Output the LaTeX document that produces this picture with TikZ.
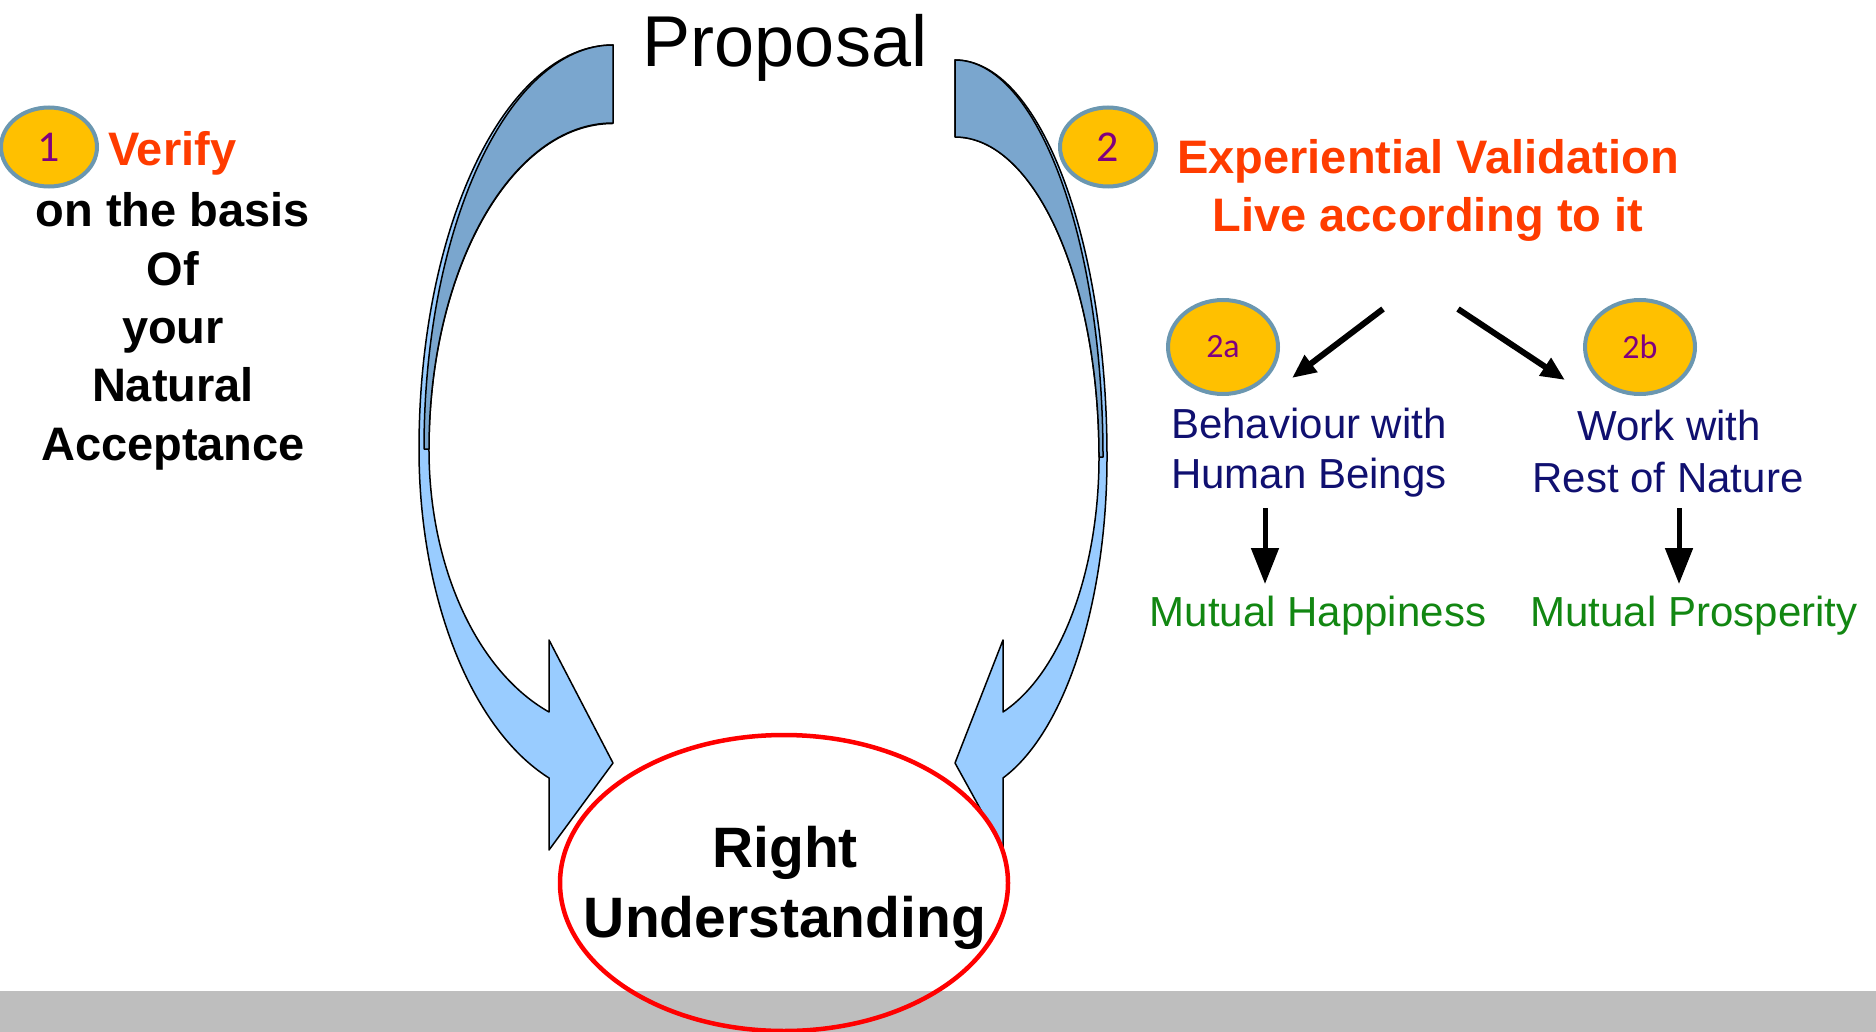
\documentclass[tikz,border=0pt]{standalone}
\usepackage{fontspec}
\setmainfont{Liberation Sans}
\newfontfamily\badgefont{Carlito}
\usetikzlibrary{arrows.meta,shapes.geometric}

\definecolor{sheetgray}{RGB}{190,190,190}
\definecolor{frontblue}{RGB}{153,204,255}
\definecolor{backblue}{RGB}{122,166,206}
\definecolor{vermilion}{RGB}{255,60,0}
\definecolor{badgegold}{RGB}{255,192,0}
\definecolor{badgerim}{RGB}{107,151,176}
\definecolor{badgeink}{RGB}{128,0,128}
\definecolor{navyink}{RGB}{16,16,112}
\definecolor{leafgreen}{RGB}{18,135,18}

\begin{document}
\begin{tikzpicture}[x=1pt,y=-1pt,
  front/.style={fill=frontblue,draw=black,line width=1.5pt,line join=round},
  back/.style={fill=backblue,draw=black,line width=1.5pt,line join=round},
  badge/.style={ellipse,fill=badgegold,draw=badgerim,line width=4pt,inner sep=0pt,
    minimum width=96pt,minimum height=79pt,text=badgeink,font=\badgefont\fontsize{44}{52}\selectfont},
  subbadge/.style={badge,minimum width=110pt,minimum height=94pt,font=\badgefont\fontsize{34}{40}\selectfont},
  bigword/.style={anchor=base,font=\fontsize{72}{86}\selectfont},
  heavy/.style={anchor=base,font=\fontsize{47}{56}\selectfont\bfseries},
  plain/.style={anchor=base,font=\fontsize{42}{50}\selectfont},
  pointer/.style={line width=6pt,-{Triangle[length=24pt,width=20pt]}},
  drop/.style={line width=5pt,-{Triangle[length=36pt,width=27pt]}}]

\useasboundingbox (0,0) rectangle (1876,1032);
\fill[sheetgray] (0,991) rectangle (1876,1032);

% left curved arrow
\filldraw[front] (613,45) arc[start angle=270,end angle=180,x radius=194,y radius=404]
  arc[start angle=180,end angle=109.26,x radius=194,y radius=348.5]
  -- (549,850) -- (613,763) -- (549,640) -- (549,712)
  arc[start angle=110.35,end angle=180,x radius=184,y radius=280]
  arc[start angle=180,end angle=270,x radius=184,y radius=326] -- cycle;
\filldraw[back] (613,45) arc[start angle=270,end angle=180,x radius=189,y radius=404]
  -- (429,449) arc[start angle=180,end angle=270,x radius=184,y radius=326] -- cycle;

% right curved arrow
\filldraw[front] (955,60) arc[start angle=270,end angle=360,x radius=152,y radius=397]
  arc[start angle=0,end angle=71.59,x radius=152,y radius=338.3]
  -- (1003,850) -- (955,763) -- (1003,640) -- (1003,712)
  arc[start angle=70.53,end angle=0,x radius=144,y radius=270.5]
  arc[start angle=0,end angle=-90,x radius=144,y radius=320] -- cycle;
\filldraw[back] (955,60) arc[start angle=270,end angle=360,x radius=148,y radius=397]
  -- (1099,457) arc[start angle=0,end angle=-90,x radius=144,y radius=320] -- cycle;

\node[bigword] (proposal) at (785,67) {Proposal};

% right understanding
\draw[red,line width=4.5pt] (784,883) ellipse[x radius=224,y radius=148];
\node[heavy,font=\fontsize{57}{68}\selectfont\bfseries] (right) at (785,867) {Right};
\node[heavy,font=\fontsize{57}{68}\selectfont\bfseries] (understanding) at (785,937) {Understanding};

% step 1
\node[badge] (one) at (49,147) {1};
\node[heavy,anchor=base west,inner sep=0pt,text=vermilion] (verify) at (108,166) {Verify};
\foreach \word [count=\k] in {on the basis,Of,your,Natural,Acceptance}
  \node[heavy] (basis\k) at (173,{227+58.25*(\k-1)}) {\word};

% step 2
\node[badge] (two) at (1108,147) {2};
\node[heavy,text=vermilion] (validation) at (1428,174) {Experiential Validation};
\node[heavy,text=vermilion] (live) at (1428,232) {Live according to it};

\coordinate (forkL) at (1383,309);
\coordinate (forkR) at (1458,309);
\coordinate (tipA) at (1292,378);
\coordinate (tipB) at (1565,380);
\draw[pointer] (forkL) -- (tipA);
\draw[pointer] (forkR) -- (tipB);

\node[subbadge] (twoa) at (1223,347) {2a};
\node[subbadge] (twob) at (1640,347) {2b};

\node[plain,text=navyink] (behaviour) at (1309,438) {Behaviour with};
\node[plain,text=navyink] (beings) at (1309,488) {Human Beings};
\node[plain,text=navyink] (work) at (1669,440) {Work with};
\node[plain,text=navyink] (nature) at (1668,492) {Rest of Nature};

\coordinate (dropA) at (1265,508);
\coordinate (dropB) at (1679,508);
\coordinate (landA) at (1265,584);
\coordinate (landB) at (1679,584);
\draw[drop] (dropA) -- (landA);
\draw[drop] (dropB) -- (landB);

\node[plain,text=leafgreen] (happiness) at (1318,626) {Mutual Happiness};
\node[plain,text=leafgreen] (prosperity) at (1694,626) {Mutual Prosperity};
\end{tikzpicture}
\end{document}
